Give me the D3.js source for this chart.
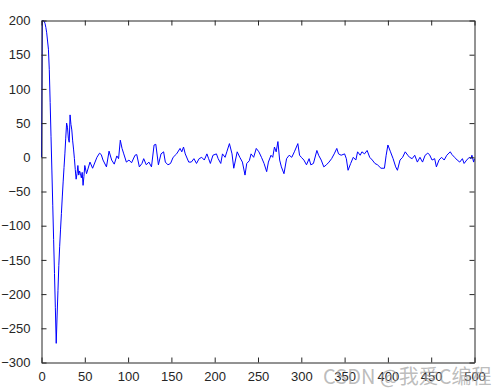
<!DOCTYPE html>
<html>
<head>
<meta charset="utf-8">
<script src="https://cdn.jsdelivr.net/npm/d3@7"></script>
<style>
  html, body { margin: 0; padding: 0; background: #fff; }
  svg { display: block; }
  .tick-label { font-family: "Liberation Sans", Arial, sans-serif; font-size: 13px; fill: #262626; }
</style>
</head>
<body>
<div id="chart"></div>
<script>
// transient part, one sample per step
const headX = [0, 1, 2, 3, 4, 5, 6, 7, 8, 9, 10, 11, 12, 13, 14, 15, 16, 17, 18, 19, 20, 21, 22, 23, 24, 25,
  26, 27, 28, 29, 30, 31, 32, 33, 34, 35, 36, 37, 38, 39, 40, 41, 42, 43, 44, 45, 46, 47, 48, 49, 50];
const headY = [0, 200, 200, 199, 196, 190, 182, 170, 158, 128, 80, 30, -20, -70, -120, -170, -220, -272, -232, -195, -158, -130,
  -105, -82, -58, -36, -15, 5, 28, 50, 44, 28, 22, 62, 48, 40, 24, 12, -2, -18, -32, -24, -12, -26, -20, -24, -30, -22, -41, -28, -12];

// noisy tail
const tailX = [52, 56, 59, 64, 67, 69, 71, 75, 78, 81, 84, 87, 89, 91, 93, 95, 98, 101, 104, 108, 110, 113, 116, 118, 121, 124,
  127, 130, 132, 135, 138, 141, 143, 146, 149, 152, 156, 160, 162, 164, 166, 170, 173, 176, 179, 182, 185, 188, 191, 193, 195,
  198, 202, 204, 207, 209, 212, 214, 217, 220, 222, 226, 229, 232, 235, 237, 240, 242, 245, 248, 251, 254, 257, 260, 262, 265,
  267, 269, 271, 273, 275, 277, 280, 283, 286, 289, 292, 296, 298, 300, 303, 306, 309, 311, 314, 318, 320, 323, 326, 329, 332,
  335, 338, 341, 343, 346, 350, 352, 354, 357, 360, 363, 365, 368, 370, 373, 376, 379, 382, 385, 388, 392, 396, 398, 400, 403,
  406, 409, 411, 414, 417, 420, 423, 425, 428, 431, 434, 437, 440, 443, 446, 448, 451, 454, 456, 459, 462, 465, 468, 472, 474,
  477, 480, 483, 486, 488, 491, 494, 496, 497, 499, 500];
const tailY = [-24, -7, -16, 0, 6, 4, -4, -14, 9, -4, -10, 2, -2, 25, 13, 5, -7, -4, -8, 3, 4, -14, -9, -2, -11, -7,
  -14, 18, 19, -11, 5, 8, -7, -11, -9, 0, 5, 13, 8, 15, 5, -7, -7, -2, -9, -2, 0, -4, 5, -2, -9,
  3, 5, -2, -9, 5, 0, 8, 20, 5, -16, 8, 0, -7, -26, -9, -5, 5, 0, 13, 8, 0, -9, -21, -7, 3,
  0, 15, 8, 23, -4, -14, -24, -2, 3, 0, 8, 20, 3, 0, -4, -11, -2, -11, -9, 10, 3, -4, -14, -11, -7,
  -2, 5, 13, 5, 3, 5, -2, -19, -9, 0, -4, 8, 3, 8, 5, 10, 0, -4, -9, -11, -16, -16, 3, 18, 8,
  -2, -14, -19, -4, 0, 8, 3, 0, -2, 3, -7, 0, -7, 3, 6, 4, -4, -2, -14, -4, 0, -4, 3, 8, 4,
  0, -4, -7, -2, -9, -4, 0, -2, 3, -7, -2];

const xTicks = [0, 50, 100, 150, 200, 250, 300, 350, 400, 450, 500];
const yTicks = [-300, -250, -200, -150, -100, -50, 0, 50, 100, 150, 200];

const width = 498;
const height = 392;
const plot = {left: 41.5, right: 474.5, top: 20.5, bottom: 362.5};
const tickLen = 5;

const svg = d3.select('#chart')
    .append('svg')
    .attr('width', width)
    .attr('height', height);

const x = d3.scaleLinear().domain([0, 500]).range([plot.left, plot.right]);
const y = d3.scaleLinear().domain([-300, 200]).range([plot.bottom, plot.top]);

const points = headX.map((d, i) => [d, headY[i]])
    .concat(tailX.map((d, i) => [d, tailY[i]]));

// data line
svg.append('path')
    .datum(points)
    .attr('fill', 'none')
    .attr('stroke', '#0000ff')
    .attr('stroke-width', 1)
    .attr('stroke-linejoin', 'round')
    .attr('d', d3.line().x(d => x(d[0])).y(d => y(d[1])));

// box with inward ticks on all four sides
const axisColor = '#262626';
const bottomAxis = d3.axisBottom(x).tickValues(xTicks).tickSizeInner(-tickLen).tickSizeOuter(0).tickPadding(9);
const topAxis = d3.axisTop(x).tickValues(xTicks).tickSizeInner(-tickLen).tickSizeOuter(0).tickFormat('');
const leftAxis = d3.axisLeft(y).tickValues(yTicks).tickSizeInner(-tickLen).tickSizeOuter(0).tickPadding(11);
const rightAxis = d3.axisRight(y).tickValues(yTicks).tickSizeInner(-tickLen).tickSizeOuter(0).tickFormat('');

function styleAxis(g) {
  g.select('.domain').attr('stroke', axisColor);
  g.selectAll('.tick line').attr('stroke', axisColor);
  g.selectAll('.tick text').attr('class', 'tick-label').attr('fill', axisColor);
  g.attr('font-family', null).attr('font-size', null);
}

svg.append('g').attr('transform', `translate(0,${plot.bottom})`).call(bottomAxis).call(styleAxis);
svg.append('g').attr('transform', `translate(0,${plot.top})`).call(topAxis).call(styleAxis);
svg.append('g').attr('transform', `translate(${plot.left},0)`).call(leftAxis).call(styleAxis);
svg.append('g').attr('transform', `translate(${plot.right},0)`).call(rightAxis).call(styleAxis);

// watermark (sits over the last x labels, as in the source image)
svg.append('text')
    .attr('x', 323)
    .attr('y', 384)
    .attr('font-family', '"Noto Sans CJK SC", "Liberation Sans", sans-serif')
    .attr('font-size', 20)
    .attr('fill', '#a0a0a0')
    .attr('fill-opacity', 0.7)
    .text('CSDN @我爱C编程');
</script>
</body>
</html>
